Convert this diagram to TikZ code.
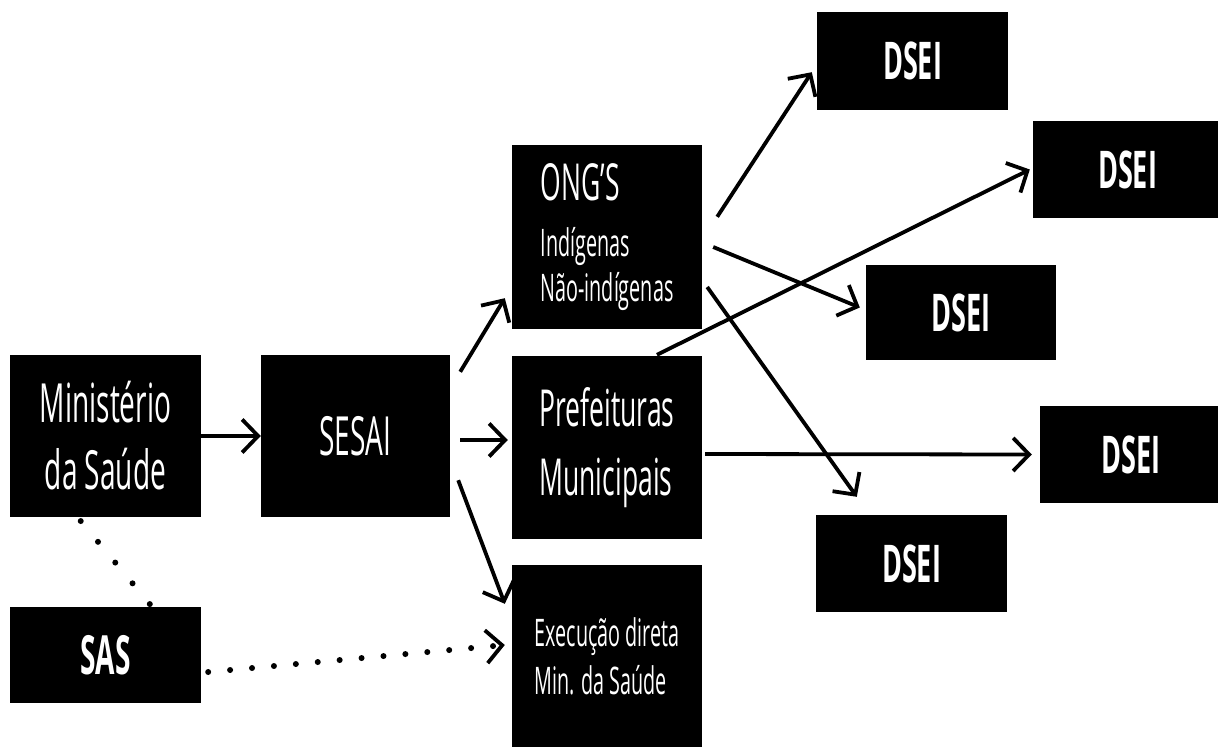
\documentclass[tikz,border=0pt]{standalone}
\usepackage{fontspec}
\setmainfont{Open Sans}[FakeStretch=0.52]
\usetikzlibrary{arrows.meta}

\tikzset{
  caixa/.style={fill=black, text=white, inner sep=0pt, align=center},
  caixaesq/.style={caixa, align=left},
  dsei/.style={caixa, font=\bfseries\fontsize{52}{60}\selectfont},
  ponta/.tip={Straight Barb[length=16pt, width=33pt, line width=3.8pt]},
  seta/.style={line width=3.8pt, -{Straight Barb[length=16pt, width=33pt]}},
  pontos/.style={line width=6pt, line cap=round, dash pattern=on 0pt off 22pt},
}

\begin{document}
\begin{tikzpicture}[x=1pt, y=-1pt]
  \useasboundingbox (0,0) rectangle (1218,747);

  % Caixas da esquerda
  \node[caixa, minimum width=191pt, minimum height=162pt, font=\fontsize{54}{67}\selectfont] (min) at (105.5,436) {Ministério\\da Saúde};
  \node[caixa, minimum width=189pt, minimum height=162pt, font=\fontsize{54}{67}\selectfont] (sesai) at (355.5,436) {SESAI};
  \node[caixa, minimum width=191pt, minimum height=96pt, font=\bfseries\fontsize{54}{60}\selectfont] (sas) at (105.5,655) {SAS};

  % Caixas do meio
  \node[caixaesq, minimum width=190pt, minimum height=184pt, font=\fontsize{38}{45}\selectfont] (ong) at (607,237)
    {{\fontsize{51}{56}\selectfont ONG’S}\\[11pt]Indígenas\\Não-indígenas};
  \node[caixaesq, minimum width=190pt, minimum height=183pt, font=\fontsize{51}{69}\selectfont] (pref) at (607,447.5) {Prefeituras\\Municipais};
  \node[caixaesq, minimum width=190pt, minimum height=182pt, font=\fontsize{38}{48}\selectfont] (exec) at (607,656) {Execução direta\\Min. da Saúde};

  % Caixas DSEI
  \node[dsei, minimum width=191pt, minimum height=98pt] (d1) at (912.5,61) {DSEI};
  \node[dsei, minimum width=189pt, minimum height=97pt] (d2) at (1127.5,169.5) {DSEI};
  \node[dsei, minimum width=190pt, minimum height=95pt] (d3) at (961,312.5) {DSEI};
  \node[dsei, minimum width=182pt, minimum height=97pt] (d4) at (1131,454.5) {DSEI};
  \node[dsei, minimum width=191pt, minimum height=97pt] (d5) at (911.5,563.5) {DSEI};

  % Setas
  \draw[seta] (min) -- (sesai);
  \draw[seta] ([shift={(10,17)}]sesai.north east) -- ([shift={(-7,-31)}]ong.south west);
  \draw[seta] ([shift={(10,4)}]sesai.east) -- ([shift={(-4,-7.5)}]pref.west);
  \draw[seta] ([shift={(8,-37)}]sesai.south east) -- ([shift={(-7,39)}]exec.north west);

  \draw[seta] ([shift={(15,72)}]ong.north east) -- ([shift={(-5,-38)}]d1.south west);
  \draw[seta] ([shift={(11,10)}]ong.east) -- ([shift={(-6,-5)}]d3.west);
  \draw[seta] ([shift={(5,50)}]ong.east) -- ([shift={(41,-18)}]d5.north west);
  \draw[seta] ([shift={(50,-1)}]pref.north) -- ([xshift=-3pt]d2.west);
  \draw[seta] ([shift={(3,6.5)}]pref.east) -- ([xshift=-8pt]d4.west);

  % Linhas pontilhadas
  \draw[pontos, dash pattern=on 0pt off 27pt, shorten <=5pt] (min.-109) -- (sas.46);
  \draw[pontos, -{ponta}] ([shift={(7,17)}]sas.east) -- ([shift={(-7,-11)}]exec.west);
\end{tikzpicture}
\end{document}
